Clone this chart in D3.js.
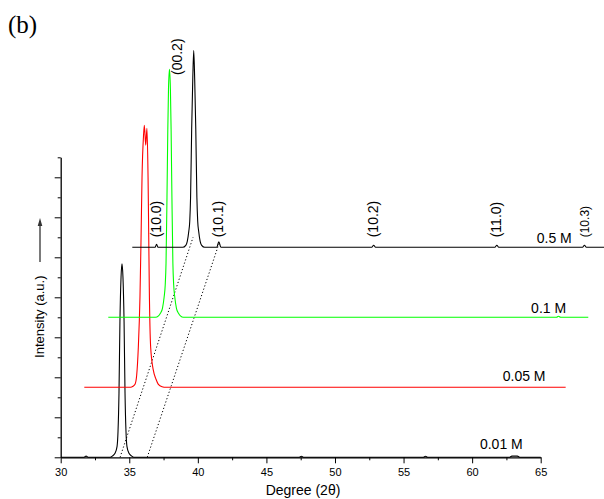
<!DOCTYPE html>
<html><head><meta charset="utf-8">
<script src="https://cdn.jsdelivr.net/npm/d3@7"></script>
<style>
html,body{margin:0;padding:0;background:#fff;}
svg{display:block;font-family:"Liberation Sans",Arial,sans-serif;}
</style></head><body>
<svg id="chart" width="604" height="499"></svg>
<script>
// ---------- data ----------
const xMajorTicks = [30, 35, 40, 45, 50, 55, 60, 65];
const xMinorTicks = [32.5, 37.5, 42.5, 47.5, 52.5, 57.5, 62.5];
const yMajorTicks = [0, 2, 4, 6, 8, 10, 12, 14];
const yMinorTicks = [1, 3, 5, 7, 9, 11, 13, 15];

const seriesNames = ["0.01 M", "0.05 M", "0.1 M", "0.5 M"];
const seriesColors = ["#000000", "#ff0000", "#00ff00", "#000000"];
const seriesOffsets = [0, 3.5, 7, 10.5];
const seriesLabelX = [60.57, 62.23, 64.30, 64.71];

// [2theta (deg), intensity (a.u.) above own baseline]
const trace001 = [[30,0],[31.7,0],[31.85,0.06],[32.0,0],
  [33.60,0],[33.78,0.07],[33.96,0.2],[34.11,0.55],[34.18,1.3],[34.25,3.2],[34.32,6.8],[34.40,9.0],
  [34.47,9.67],[34.54,9.0],[34.62,6.8],[34.69,3.2],[34.76,1.3],[34.83,0.55],[34.98,0.2],[35.16,0.07],[35.34,0],
  [47.4,0],[47.55,0.05],[47.7,0],[56.45,0],[56.6,0.05],[56.75,0],[62.7,0],[62.9,0.06],[63.3,0.06],[63.5,0],[65,0]];
const trace005 = [[31.72,0],[35.1,0],[35.27,0.05],[35.42,0.15],[35.54,0.6],[35.66,2.0],[35.78,4.5],[35.86,7.5],
  [35.93,10.5],[36.04,12.6],[36.10,13.1],[36.20,12.1],[36.29,12.95],[36.37,10.5],[36.42,7.5],[36.46,5.0],
  [36.56,2.0],[36.75,0.87],[36.95,0.4],[37.12,0.15],[37.39,0.03],[37.68,0],[66.82,0]];
const trace01 = [[33.47,0],[36.91,0],[37.13,0.07],[37.27,0.2],[37.42,0.45],[37.54,1.0],[37.62,1.6],[37.68,2.7],
  [37.75,6.0],[37.81,9.4],[37.86,11.4],[37.93,12.4],[38.00,11.4],[38.05,9.4],[38.11,6.0],[38.18,2.7],
  [38.24,1.6],[38.32,1.0],[38.44,0.45],[38.59,0.2],[38.73,0.07],[38.95,0],[66.15,0],[66.3,0.05],[66.45,0],[68.47,0]];
const trace05 = [[35.22,0],[36.88,0],[36.99,0.15],[37.10,0],[38.90,0],[39.12,0.1],[39.23,0.3],[39.34,0.8],
  [39.41,1.3],[39.47,2.5],[39.55,5.9],[39.63,8.4],[39.70,9.84],[39.77,8.4],[39.85,5.9],[39.93,2.5],[39.99,1.3],
  [40.06,0.8],[40.17,0.3],[40.28,0.1],[40.50,0],[41.38,0],[41.53,0.28],[41.68,0],[52.68,0],[52.82,0.1],[52.96,0],
  [61.66,0],[61.8,0.1],[61.94,0],[68.05,0],[68.19,0.1],[68.33,0],[70,0]];

const peakLabels = ["(10.0)", "(00.2)", "(10.1)", "(10.2)", "(11.0)", "(10.3)"];
const peakLabelDeg = [36.99, 38.55, 41.53, 52.82, 61.8, 68.19];

const guide1 = [[34.33, 0], [39.65, 11.0]];
const guide2 = [[36.31, 0], [41.55, 10.7]];

// ---------- drawing ----------
const FONT = "'Liberation Sans', Arial, sans-serif";
const svg = d3.select("#chart");
const x = d3.scaleLinear().domain([30, 65]).range([60.7, 540.7]);
const y = d3.scaleLinear().domain([0, 15]).range([457.3, 157.3]);

function styleAxis(g, w) {
  g.select(".domain").attr("stroke", "#000").attr("stroke-width", w);
  g.selectAll(".tick line").attr("stroke", "#000").attr("stroke-width", 1);
}
const gxMin = svg.append("g").attr("transform", `translate(0,${y(0)})`)
  .call(d3.axisBottom(x).tickValues(xMinorTicks).tickSize(3).tickSizeOuter(0).tickFormat(""));
gxMin.select(".domain").remove(); styleAxis(gxMin, 1);
const gx = svg.append("g").attr("transform", `translate(0,${y(0)})`)
  .call(d3.axisBottom(x).tickValues(xMajorTicks).tickSize(6).tickSizeOuter(0).tickPadding(5).tickFormat(d3.format("d")));
styleAxis(gx, 1.3);
gx.selectAll("text").attr("font-size", 11).attr("fill", "#000").attr("font-family", FONT);

const gyMin = svg.append("g").attr("transform", `translate(${x(30)},0)`)
  .call(d3.axisLeft(y).tickValues(yMinorTicks).tickSize(3).tickSizeOuter(0).tickFormat(""));
gyMin.select(".domain").remove(); styleAxis(gyMin, 1);
const gy = svg.append("g").attr("transform", `translate(${x(30)},0)`)
  .call(d3.axisLeft(y).tickValues(yMajorTicks).tickSize(6).tickSizeOuter(0).tickFormat(""));
styleAxis(gy, 1.3);

[guide1, guide2].forEach(gd => {
  svg.append("line")
    .attr("x1", x(gd[0][0])).attr("y1", y(gd[0][1]))
    .attr("x2", x(gd[1][0])).attr("y2", y(gd[1][1]))
    .attr("stroke", "#000").attr("stroke-width", 1).attr("stroke-dasharray", "1.2,2.2");
});

const traces = [trace001, trace005, trace01, trace05];
traces.forEach((t, i) => {
  const ln = d3.line().x(d => x(d[0])).y(d => y(d[1] + seriesOffsets[i])).curve(d3.curveMonotoneX);
  svg.append("path").datum(t).attr("d", ln)
    .attr("fill", "none").attr("stroke", seriesColors[i]).attr("stroke-width", 1.1);
});

const labelDy = [-8.3, -6.6, -4, -4.6];
seriesNames.forEach((n, i) => {
  svg.append("text").attr("x", x(seriesLabelX[i])).attr("y", y(seriesOffsets[i]) + labelDy[i])
    .attr("font-family", FONT).attr("font-size", 14).attr("fill", "#000").text(n);
});

peakLabels.forEach((p, i) => {
  const px = x(peakLabelDeg[i]) + 4.5;
  const py = (p === "(00.2)") ? 75 : y(seriesOffsets[3]) - 10;
  const fs = (p === "(10.3)") ? 12 : 14;
  svg.append("text").attr("transform", `translate(${px},${py}) rotate(-90)`)
    .attr("font-family", FONT).attr("font-size", fs).attr("fill", "#000").text(p);
});

svg.append("text").attr("x", 303).attr("y", 495).attr("text-anchor", "middle")
  .attr("font-family", FONT).attr("font-size", 14).attr("fill", "#000").text("Degree (2θ)");
svg.append("text").attr("transform", "translate(44,316.7) rotate(-90)").attr("text-anchor", "middle")
  .attr("font-family", FONT).attr("font-size", 13).attr("fill", "#000").text("Intensity (a.u.)");
svg.append("line").attr("x1", 40).attr("y1", 262).attr("x2", 40).attr("y2", 224)
  .attr("stroke", "#333").attr("stroke-width", 1.3);
svg.append("path").attr("d", "M40,218 L42.3,226 L37.7,226 Z").attr("fill", "#333");

svg.append("text").attr("x", 8).attr("y", 33).attr("font-family", "'Liberation Serif','Times New Roman',serif")
  .attr("font-size", 25).attr("fill", "#000").text("(b)");
</script>
</body></html>
